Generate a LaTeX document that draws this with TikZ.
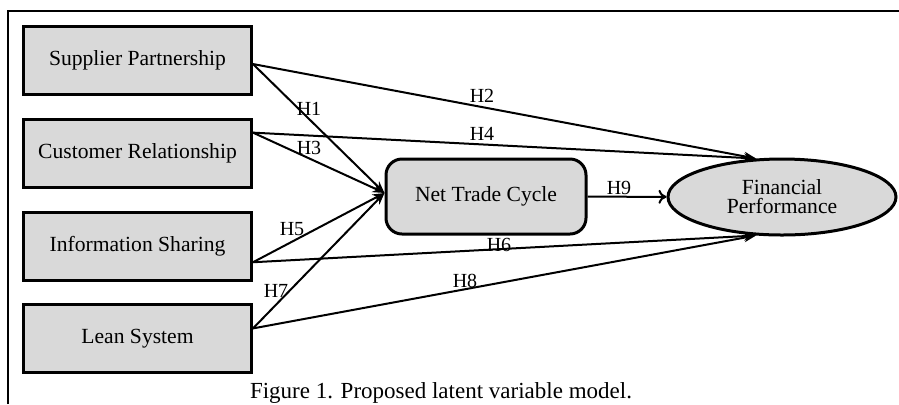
\documentclass[tikz,border=0pt]{standalone}
\usepackage{fontspec}
\setmainfont{Liberation Serif}
\usepackage{xcolor}
\usetikzlibrary{shapes.geometric, arrows.meta}

\definecolor{boxgray}{RGB}{217,217,217}

\begin{document}
\begin{tikzpicture}[
        x = 0.5pt, y = -0.5pt, % one unit per pixel
        > = {Stealth[length=6pt, width=4.5pt]}, % arrow head style
        construct/.style = {rectangle, draw, line width=1.5pt, fill=boxgray,
            minimum width=114pt, minimum height=34pt,
            font=\fontsize{10.8}{13}\selectfont},
        mediator/.style = {rectangle, rounded corners=8pt, draw, line width=1.5pt,
            fill=boxgray, minimum width=100pt, minimum height=37.5pt,
            font=\fontsize{10.8}{13}\selectfont},
        outcome/.style = {ellipse, draw, line width=1.5pt, fill=boxgray,
            minimum width=114pt, minimum height=38pt, inner sep=0pt,
            align=center, font=\fontsize{10.8}{9.5}\selectfont},
        path/.style = {->, line width=1pt},
        hyp/.style = {inner sep=0pt, font=\fontsize{10}{11}\selectfont},
    ]
        \useasboundingbox (0,0) rectangle (899,404);

        % Frame
        \draw[line width=0.8pt] (8,404) -- (8,11) -- (899,11);

        % Draw the nodes
        \foreach \pos/\i/\txt in {
            (137.5,60)/sp/Supplier Partnership,
            (137.5,153)/cr/Customer Relationship,
            (137.5,246)/is/Information Sharing,
            (137.5,338.5)/ls/Lean System} {
            \node[construct] (\i) at \pos {\txt};
        }
        \node[mediator] (ntc) at (486,196.5) {Net Trade Cycle};
        \node[outcome] (fp) at (782,197) {Financial\\Performance};

        % Draw the edges
        \foreach \b/\e in {
            sp.-2/ntc.178,
            sp.-2/fp.124,
            cr.10/ntc.178,
            cr.10/fp.124,
            is.-8/ntc.178,
            is.-8/fp.236,
            ls.5/ntc.178,
            ls.5/fp.236} {
            \draw[path] (\b) to (\e);
        }
        \draw[-{To[length=4pt, width=7pt]}, line width=1pt] (ntc) to (fp);

        % Hypothesis labels
        \foreach \pos/\i/\txt in {
            (309,109)/h1/H1,
            (482,96)/h2/H2,
            (309,148)/h3/H3,
            (482,134)/h4/H4,
            (292,229)/h5/H5,
            (499,245)/h6/H6,
            (276,291)/h7/H7,
            (465,281)/h8/H8,
            (619,188)/h9/H9} {
            \node[hyp] (\i) at \pos {\txt};
        }

        % Caption
        \node[font=\fontsize{11.5}{14}\selectfont] (caption) at (441,393)
            {Figure 1. Proposed latent variable model.};
    \end{tikzpicture}
\end{document}
